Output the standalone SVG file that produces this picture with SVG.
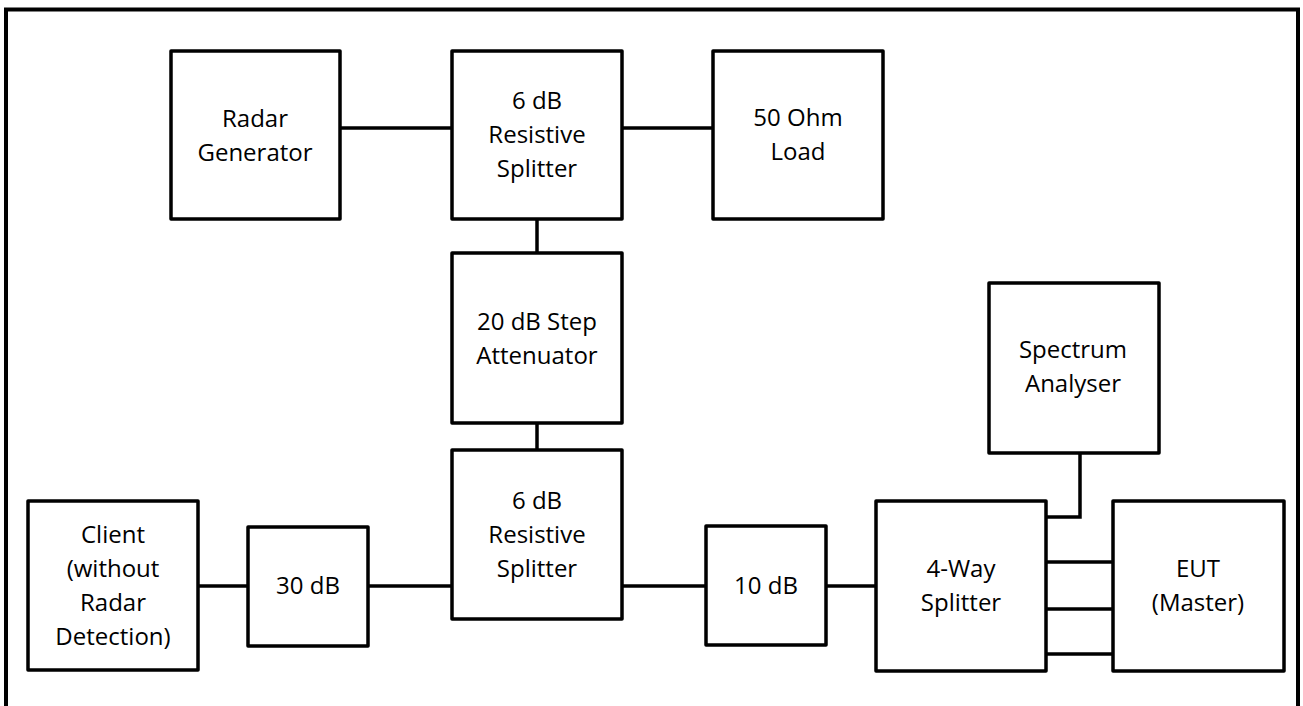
<svg xmlns="http://www.w3.org/2000/svg" width="1303" height="706" viewBox="0 0 1303 706">
<style>
.box{fill:#fff;stroke:#000;stroke-width:3.5;stroke-linejoin:round}
.ln{fill:none;stroke:#000;stroke-width:3.5}
text{font-family:"Open Sans","Liberation Sans",sans-serif;font-size:24px;fill:#000;text-anchor:middle}
</style>
<rect width="1303" height="706" fill="#fff"/>
<path d="M6,720 V9.5 H1298 V720" fill="none" stroke="#000" stroke-width="4"/>
<g id="connectors">
<line class="ln" x1="340" y1="128" x2="452" y2="128"/>
<line class="ln" x1="622" y1="128" x2="713" y2="128"/>
<line class="ln" x1="537" y1="219" x2="537" y2="253"/>
<line class="ln" x1="537" y1="423" x2="537" y2="450"/>
<line class="ln" x1="198" y1="586" x2="248" y2="586"/>
<line class="ln" x1="368" y1="586" x2="452" y2="586"/>
<line class="ln" x1="622" y1="586" x2="706" y2="586"/>
<line class="ln" x1="826" y1="586" x2="876" y2="586"/>
<polyline class="ln" points="1080,453 1080,517 1046,517"/>
<line class="ln" x1="1046" y1="562" x2="1113" y2="562"/>
<line class="ln" x1="1046" y1="609" x2="1113" y2="609"/>
<line class="ln" x1="1046" y1="654" x2="1113" y2="654"/>
</g>
<g id="radar-generator"><rect class="box" x="171" y="51" width="169" height="168"/><text x="255" y="127">Radar</text><text x="255" y="161">Generator</text></g>
<g id="splitter-top"><rect class="box" x="452" y="51" width="170" height="168"/><text x="537" y="109">6 dB</text><text x="537" y="143">Resistive</text><text x="537" y="177">Splitter</text></g>
<g id="load"><rect class="box" x="713" y="51" width="170" height="168"/><text x="798" y="126">50 Ohm</text><text x="798" y="160">Load</text></g>
<g id="attenuator"><rect class="box" x="452" y="253" width="170" height="170"/><text x="537" y="330">20 dB Step</text><text x="537" y="364">Attenuator</text></g>
<g id="splitter-bottom"><rect class="box" x="452" y="450" width="170" height="169"/><text x="537" y="509">6 dB</text><text x="537" y="543">Resistive</text><text x="537" y="577">Splitter</text></g>
<g id="client"><rect class="box" x="28" y="501" width="170" height="169"/><text x="113" y="543">Client</text><text x="113" y="577">(without</text><text x="113" y="611">Radar</text><text x="113" y="645">Detection)</text></g>
<g id="att30"><rect class="box" x="248" y="527" width="120" height="119"/><text x="308" y="594">30 dB</text></g>
<g id="att10"><rect class="box" x="706" y="526" width="120" height="119"/><text x="766" y="594">10 dB</text></g>
<g id="spectrum"><rect class="box" x="989" y="283" width="170" height="170"/><text x="1073" y="358">Spectrum</text><text x="1073" y="392">Analyser</text></g>
<g id="four-way"><rect class="box" x="876" y="501" width="170" height="170"/><text x="961" y="577">4-Way</text><text x="961" y="611">Splitter</text></g>
<g id="eut"><rect class="box" x="1113" y="501" width="171" height="170"/><text x="1198" y="577">EUT</text><text x="1198" y="611">(Master)</text></g>
</svg>
